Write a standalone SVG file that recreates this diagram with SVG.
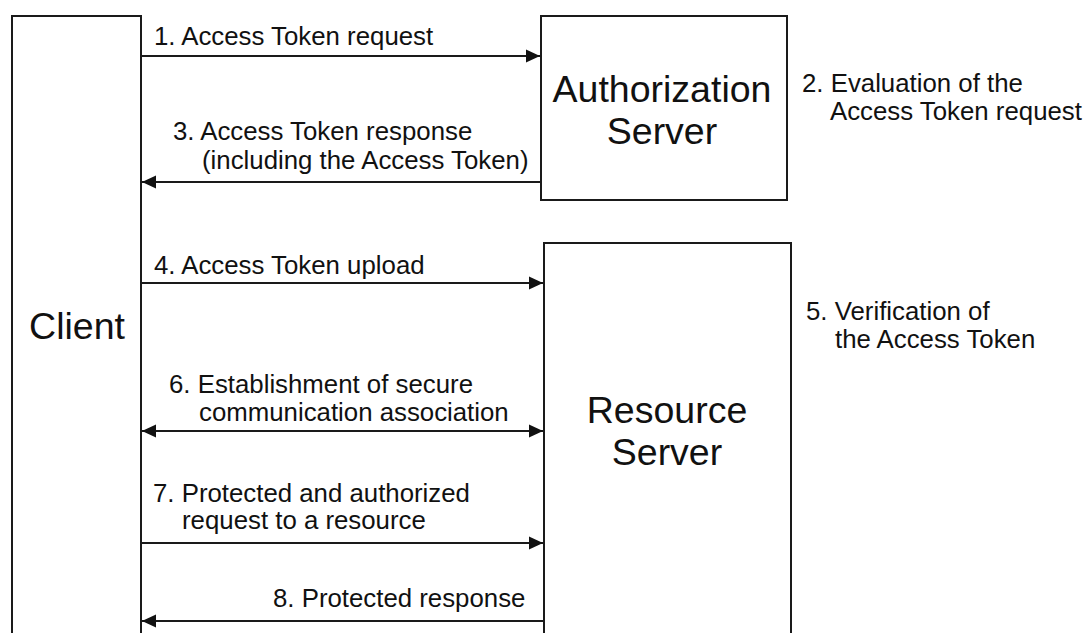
<svg xmlns="http://www.w3.org/2000/svg" width="1085" height="633" viewBox="0 0 1085 633">
<style>
.box{fill:#fff;stroke:#1a1a1a;stroke-width:2}
.big{font-family:"Liberation Sans",Arial,sans-serif;font-size:37.5px;fill:#111;text-anchor:middle}
.lbl{font-family:"Liberation Sans",Arial,sans-serif;font-size:25.8px;fill:#111}
.ln{stroke:#1a1a1a;stroke-width:2;fill:none}
</style>
<defs>
<marker id="ah" markerUnits="userSpaceOnUse" markerWidth="15" markerHeight="14" refX="14" refY="7" orient="auto-start-reverse">
<path d="M0,0.5 L14,7 L0,13.5 Z" fill="#111"/>
</marker>
</defs>
<rect width="1085" height="633" fill="#fff"/>
<g id="client">
<rect class="box" x="12" y="16" width="129" height="640"/>
<text class="big" x="77" y="339">Client</text>
</g>
<g id="auth-server">
<rect class="box" x="541" y="16" width="246" height="184"/>
<text class="big" x="662" y="102">Authorization</text>
<text class="big" x="662" y="144">Server</text>
</g>
<g id="resource-server">
<rect class="box" x="544" y="243" width="247" height="420"/>
<text class="big" x="667" y="423">Resource</text>
<text class="big" x="667" y="465">Server</text>
</g>
<g id="connectors">
<line class="ln" x1="141" y1="56" x2="540" y2="56" marker-end="url(#ah)"/>
<line class="ln" x1="540" y1="182" x2="142" y2="182" marker-end="url(#ah)"/>
<line class="ln" x1="141" y1="283" x2="543" y2="283" marker-end="url(#ah)"/>
<line class="ln" x1="142" y1="431" x2="543" y2="431" marker-start="url(#ah)" marker-end="url(#ah)"/>
<line class="ln" x1="141" y1="543" x2="543" y2="543" marker-end="url(#ah)"/>
<line class="ln" x1="543" y1="621" x2="142" y2="621" marker-end="url(#ah)"/>
</g>
<g id="labels">
<text class="lbl" x="154" y="45">1. Access Token request</text>
<text class="lbl" x="802" y="92">2. Evaluation of the</text>
<text class="lbl" x="830" y="120">Access Token request</text>
<text class="lbl" x="173" y="140">3. Access Token response</text>
<text class="lbl" x="202" y="169">(including the Access Token)</text>
<text class="lbl" x="154" y="274">4. Access Token upload</text>
<text class="lbl" x="806" y="320">5. Verification of</text>
<text class="lbl" x="835" y="348">the Access Token</text>
<text class="lbl" x="169" y="393">6. Establishment of secure</text>
<text class="lbl" x="199" y="421">communication association</text>
<text class="lbl" x="153" y="502">7. Protected and authorized</text>
<text class="lbl" x="182" y="529">request to a resource</text>
<text class="lbl" x="273" y="607">8. Protected response</text>
</g>
</svg>
